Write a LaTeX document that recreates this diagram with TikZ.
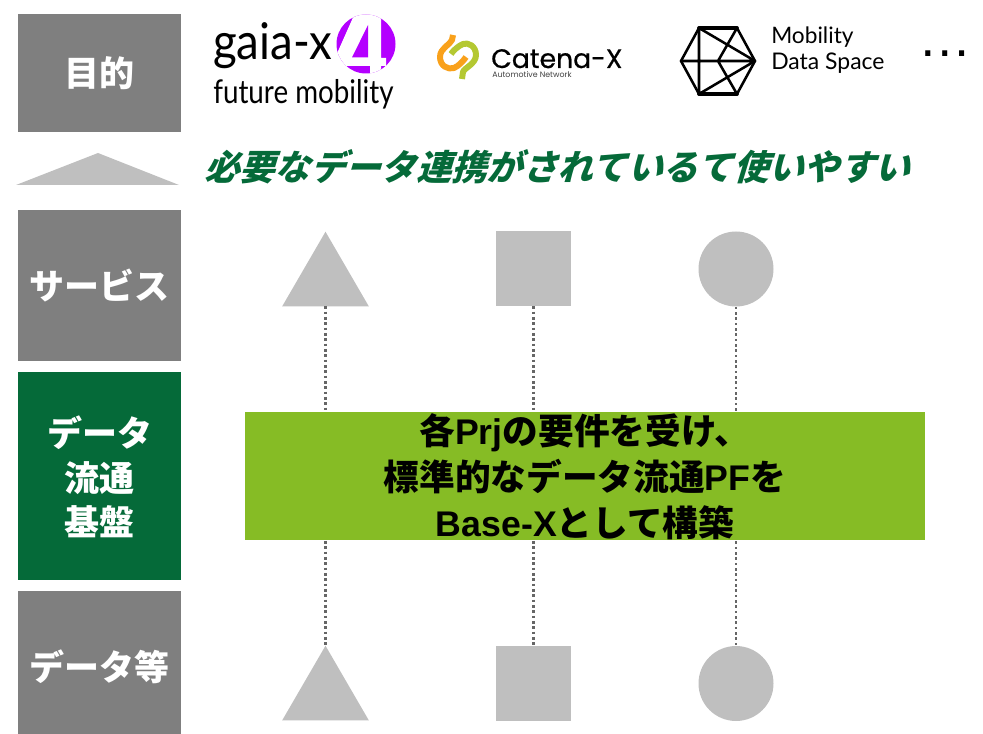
\documentclass[tikz,border=0pt]{standalone}
\usepackage{fontspec}
\setmainfont{Liberation Sans}
\newfontfamily\jp{Noto Sans CJK JP}
\newfontfamily\jpit[BoldFeatures={FakeSlant=0.3}]{Noto Sans CJK JP}
\newfontfamily\lato{Lato}
\newfontfamily\latoa[FakeStretch=0.9]{Lato}
\newfontfamily\latob[FakeStretch=0.85]{Lato}
\newfontfamily\pop[FakeBold=0.6]{Poppins}
\newfontfamily\popsm{Poppins}
\newcommand{\sz}[1]{\fontsize{#1}{#1}\selectfont}
\newcommand{\J}[1]{{\jp\bfseries #1}}
\newcommand{\LL}[1]{{\rmfamily\bfseries #1}}
\definecolor{boxgray}{HTML}{7F7F7F}
\definecolor{lightgray2}{HTML}{BFBFBF}
\definecolor{dkgreen}{HTML}{056A39}
\definecolor{lime}{HTML}{86BC25}
\definecolor{purp}{HTML}{B400FF}
\definecolor{cxorange}{HTML}{F9A11B}
\definecolor{cxgreen}{HTML}{B4C832}
\tikzset{
  x=0.75pt,y=-0.75pt,
  catbox/.style={fill=boxgray,draw=none,inner sep=0,text=white,font=\jp\bfseries\sz{26.25},align=center},
  grn/.style={catbox,fill=dkgreen},
  lab/.style={inner sep=0,anchor=base west,text=black},
  sh/.style={inner sep=0,draw=none},
  dots/.style={draw=black!60,line width=2pt,dash pattern=on 2pt off 2pt},
  mds/.style={line width=1.9pt,line join=round,line cap=round},
}
\begin{document}
\begin{tikzpicture}
\useasboundingbox (0,0) rectangle (983,734);
% category boxes
\node[catbox,minimum width=122.25pt,minimum height=88.5pt] (goal) at (99.5,73) {目的};
\node[catbox,minimum width=122.25pt,minimum height=113.25pt] (svc) at (99.5,285.5) {サービス};
\node[grn,minimum width=122.25pt,minimum height=156pt] (plat) at (99.5,476) {};
\node[text=white,font=\jp\bfseries\sz{26.25},inner sep=0] (pl1) at (99.5,433) {データ};
\node[text=white,font=\jp\bfseries\sz{26.25},inner sep=0] (pl2) at (99.5,478) {流通};
\node[text=white,font=\jp\bfseries\sz{26.25},inner sep=0] (pl3) at (99.5,522) {基盤};
\node[catbox,minimum width=122.25pt,minimum height=107.25pt] (data) at (99.5,662.5) {};
\node[text=white,font=\jp\bfseries\sz{26.25},inner sep=0] (datal) at (99.5,667) {データ等};
% flat triangle
\fill[lightgray2] (16,185) -- (98,153) -- (179,185) -- cycle;
% headline
\node[lab,text=dkgreen,font=\jpit\bfseries\sz{26.5}] (head) at (204,181) {必要なデータ連携がされているて使いやすい};
% service and data shapes
\node[sh,minimum width=64.5pt,minimum height=55.5pt] (t1) at (325.5,269) {};
\node[sh,minimum width=64.5pt,minimum height=55.5pt] (t2) at (325.5,683) {};
\node[sh,fill=lightgray2,minimum width=56.25pt,minimum height=56.25pt] (s1) at (533.5,268.5) {};
\node[sh,fill=lightgray2,minimum width=56.25pt,minimum height=56.25pt] (s2) at (533.5,683.5) {};
\node[sh,circle,fill=lightgray2,minimum size=56.25pt] (c1) at (736,269) {};
\node[sh,circle,fill=lightgray2,minimum size=56.25pt] (c2) at (736,683.5) {};
\fill[lightgray2] (t1.south west) -- (t1.north) -- (t1.south east) -- cycle;
\fill[lightgray2] (t2.south west) -- (t2.north) -- (t2.south east) -- cycle;
\draw[dots] (t1.south) -- (t2.north);
\draw[dots] (s1.south) -- (s2.north);
\draw[dots] (c1.south) -- (c2.north);
% central box
\node[fill=lime,inner sep=0,minimum width=510pt,minimum height=96pt] (core) at (585,476) {};
\node[inner sep=0,align=center,font=\fontsize{26.75}{34.5}\selectfont] (coretext) at (585,477)
  {\J{各}\LL{Prj}\J{の要件を受け、}\\
   \J{標準的なデータ流通}\LL{PF}\J{を}\\
   \LL{Base-X}\J{として構築}};
% gaia-x logo
\begin{scope}
\clip (366,44) circle[x radius=29.5,y radius=29.5];
\fill[purp] (336,14) rectangle (396,74);
\fill[white] (355,13) -- (381,13) -- (381,58) -- (386,58) -- (386,66) -- (381,66) -- (381,75) -- (370,75) -- (370,66) -- (335,66) -- (335,58) -- cycle;
\fill[purp] (368,25) -- (368,57.5) -- (352,57.5) -- cycle;
\end{scope}
\node[lab,font=\latoa\sz{38}] (gaia) at (213,60) {gaia-x};
\node[lab,font=\latob\sz{24.5}] (future) at (213,104) {future mobility};
% Catena-X logo
\draw[cxgreen,line width=4.5pt,line cap=butt,line join=round]
  (462,79) -- (463,72) .. controls (464,68) and (476,64) .. (476,55)
  .. controls (476,46) and (468,42) .. (463,44) .. controls (458,46) and (453,51) .. (451,54);
\draw[cxorange,line width=4.5pt,line cap=butt,line join=round]
  (453,35) -- (452,40) .. controls (450,45) and (440,48) .. (440,57)
  .. controls (440,66) and (448,70) .. (454,68) .. controls (459,66) and (464,60) .. (466,57);
\node[lab,font=\pop\sz{20}] (catena) at (491,68) {Catena-X};
\node[lab,font=\popsm\sz{5.9},text=black!75] (auto) at (492,78) {Automotive Network};
% Mobility Data Space logo
\coordinate (mA) at (699,28);
\coordinate (mB) at (737,28);
\coordinate (mC) at (755,61);
\coordinate (mD) at (737,94);
\coordinate (mE) at (699,94);
\coordinate (mF) at (681,61);
\coordinate (mP) at (718,61);
\draw[mds] (mA) -- (mB) -- (mC) -- (mD) -- (mE) -- (mF) -- cycle;
\draw[mds,line width=2.8pt] (mA) -- (mB) (mE) -- (mD);
\draw[mds] (mA) -- (mE) (mF) -- (mC) (mA) -- (mC) (mE) -- (mC) (mB) -- (mP) -- (mD);
\node[lab,font=\lato\sz{17}] (mob) at (771,44) {Mobility};
\node[lab,font=\lato\sz{17.2}] (dsp) at (771,70) {Data Space};
\node[lab,font=\rmfamily\sz{40}] (more) at (918,57) {…};
\end{tikzpicture}
\end{document}
